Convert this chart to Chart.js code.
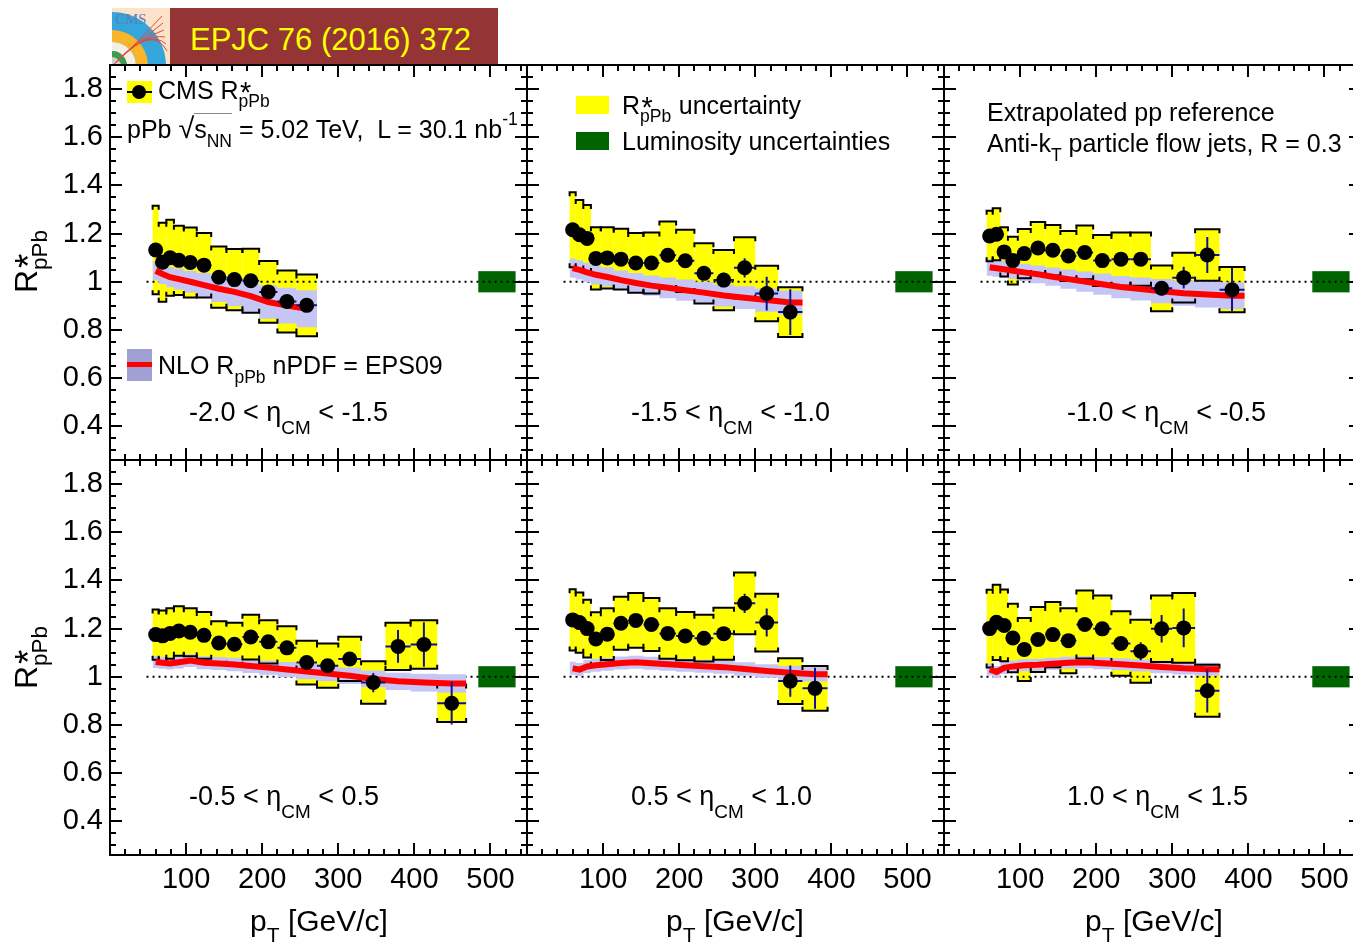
<!DOCTYPE html>
<html>
<head>
<meta charset="utf-8">
<script src="https://cdn.jsdelivr.net/npm/chart.js@4.4.0/dist/chart.umd.min.js"></script>
<style>
html, body { margin: 0; padding: 0; background: #fff; }
body { width: 1353px; height: 949px; overflow: hidden; position: relative;
       font-family: "Liberation Sans", Arial, sans-serif; color: #000; }
canvas { position: absolute; }
.t { position: absolute; white-space: nowrap; line-height: 1; z-index: 3; }
.sb { font-size: .7em; position: relative; top: .5em; }
.sbe { font-size: .7em; position: relative; top: .7em; }
.sp { font-size: .7em; position: relative; top: -.75em; }
.st { position: relative; display: inline-block; height: 0; width: 1.27em; }
.st .a { position: absolute; left: .05em; font-size: 1.15em; top: -.72em; line-height: 1; }
.st .b { position: absolute; left: 0; font-size: .7em; top: -.35em; line-height: 1; }
.ytitle { font-size: 32px; transform-origin: 0 0; transform: rotate(-90deg); }
.xtitle { font-size: 30px; transform: translateX(-50%); }
.sw { position: absolute; z-index: 3; }
.rad { border-top: 1px solid #888; padding-top: 1px; }
</style>
</head>
<body>
<canvas id="logo" width="58" height="58" style="left:112px;top:8px;"></canvas>
<div class="sw" style="left:170px;top:8px;width:328px;height:57px;background:#943434;z-index:1"></div>
<div class="t" style="left:190px;top:24px;font-size:31px;color:#ffff00;">EPJC 76 (2016) 372</div>

<div class="t ytitle" style="left:10px;top:293px;">R<span class="st"><span class="a">*</span><span class="b">pPb</span></span></div>
<div class="t ytitle" style="left:10px;top:689px;">R<span class="st"><span class="a">*</span><span class="b">pPb</span></span></div>

<!-- legend: CMS points -->
<div class="sw" style="left:127px;top:81px;width:25px;height:22px;background:#ffff00;"></div>
<div class="sw" style="left:127px;top:91px;width:25px;height:2px;background:#000;"></div>
<div class="sw" style="left:132px;top:85px;width:14px;height:14px;border-radius:50%;background:#000;"></div>
<div class="t" style="left:158px;top:78px;font-size:25px;">CMS R<span class="st"><span class="a">*</span><span class="b">pPb</span></span></div>
<div class="t" style="left:127px;top:114px;font-size:25px;">pPb <span style="font-size:1.15em">√</span><span class="rad">s<span class="sb">NN</span></span> = 5.02 TeV,&nbsp; L = 30.1 nb<span class="sp">-1</span></div>

<!-- legend: NLO -->
<div class="sw" style="left:127px;top:349px;width:25px;height:32px;background:rgb(160,160,212);"></div>
<div class="sw" style="left:127px;top:362px;width:25px;height:5px;background:#ff0000;"></div>
<div class="t" style="left:158px;top:353px;font-size:25px;">NLO R<span class="sb">pPb</span> nPDF = EPS09</div>

<!-- legend: uncertainties -->
<div class="sw" style="left:576px;top:96px;width:33px;height:18px;background:#ffff00;"></div>
<div class="t" style="left:622px;top:93px;font-size:25px;">R<span class="st"><span class="a">*</span><span class="b">pPb</span></span> uncertainty</div>
<div class="sw" style="left:576px;top:132px;width:33px;height:18px;background:#006400;"></div>
<div class="t" style="left:622px;top:129px;font-size:25px;">Luminosity uncertainties</div>

<div class="t" style="left:987px;top:100px;font-size:25px;">Extrapolated pp reference</div>
<div class="t" style="left:987px;top:131px;font-size:25px;">Anti-k<span class="sb">T</span> particle flow jets, R = 0.3</div>

<script>
// ---- binning and axis ticks ----
const ptEdges = [56, 64, 74, 84, 97, 114, 133, 153, 174, 196, 220, 245, 272, 300, 330, 362, 395, 430, 468];
const xTickValues = [100, 200, 300, 400, 500];
const xTickLabels = ['100', '200', '300', '400', '500'];
const yTickValues = [0.4, 0.6, 0.8, 1.0, 1.2, 1.4, 1.6, 1.8];
const yTickLabels = ['0.4', '0.6', '0.8', '1', '1.2', '1.4', '1.6', '1.8'];
const etaLow = ['-2.0', '-1.5', '-1.0', '-0.5', '0.5', '1.0'];
const etaHigh = ['-1.5', '-1.0', '-0.5', '0.5', '1.0', '1.5'];

// ---- luminosity uncertainty and unity reference ----
const lumiUnc = 0.044;
const lumiPt = [484, 533];
const unityPt = [48, 548];

// ---- -2.0 < eta < -1.5 ----
const rpPbA  = [1.132, 1.081, 1.100, 1.089, 1.080, 1.069, 1.019, 1.009, 1.004, 0.958, 0.918, 0.902];
const sysA   = [0.184, 0.164, 0.158, 0.144, 0.145, 0.134, 0.127, 0.127, 0.133, 0.128, 0.129, 0.128];
const statA  = [0.004, 0.004, 0.004, 0.004, 0.005, 0.005, 0.006, 0.007, 0.008, 0.010, 0.014, 0.020];
const nloA   = [1.046, 1.032, 1.019, 1.011, 1.000, 0.986, 0.971, 0.958, 0.940, 0.916, 0.901, 0.888];
const nloErrA = [0.040, 0.041, 0.042, 0.044, 0.046, 0.050, 0.055, 0.060, 0.065, 0.070, 0.074, 0.077];

// ---- -1.5 < eta < -1.0 ----
const rpPbB  = [1.216, 1.195, 1.180, 1.097, 1.099, 1.094, 1.078, 1.078, 1.110, 1.087, 1.035, 1.007, 1.058, 0.951, 0.874];
const sysB   = [0.156, 0.144, 0.139, 0.129, 0.127, 0.126, 0.124, 0.127, 0.140, 0.129, 0.125, 0.125, 0.127, 0.115, 0.103];
const statB  = [0.004, 0.004, 0.004, 0.004, 0.005, 0.005, 0.006, 0.007, 0.009, 0.012, 0.018, 0.030, 0.040, 0.070, 0.095];
const nloB   = [1.057, 1.049, 1.039, 1.029, 1.020, 1.007, 0.995, 0.984, 0.975, 0.965, 0.955, 0.943, 0.934, 0.924, 0.914];
const nloErrB = [0.040, 0.040, 0.040, 0.040, 0.040, 0.040, 0.041, 0.042, 0.043, 0.044, 0.045, 0.046, 0.047, 0.048, 0.050];

// ---- -1.0 < eta < -0.5 ----
const rpPbC  = [1.190, 1.197, 1.124, 1.088, 1.117, 1.140, 1.131, 1.107, 1.122, 1.088, 1.094, 1.094, 0.973, 1.017, 1.111, 0.967];
const sysC   = [0.105, 0.108, 0.102, 0.099, 0.102, 0.108, 0.105, 0.104, 0.112, 0.106, 0.111, 0.111, 0.095, 0.103, 0.107, 0.094];
const statC  = [0.004, 0.004, 0.004, 0.004, 0.005, 0.005, 0.006, 0.007, 0.008, 0.010, 0.013, 0.018, 0.030, 0.045, 0.075, 0.090];
const nloC   = [1.060, 1.056, 1.052, 1.046, 1.039, 1.031, 1.021, 1.011, 1.001, 0.990, 0.978, 0.970, 0.961, 0.952, 0.947, 0.942];
const nloErrC = [0.035, 0.035, 0.035, 0.035, 0.036, 0.037, 0.038, 0.040, 0.042, 0.044, 0.046, 0.048, 0.050, 0.052, 0.054, 0.056];

// ---- -0.5 < eta < 0.5 ----
const rpPbD  = [1.175, 1.170, 1.180, 1.190, 1.185, 1.172, 1.140, 1.135, 1.165, 1.145, 1.120, 1.059, 1.046, 1.074, 0.976, 1.126, 1.134, 0.890];
const sysD   = [0.104, 0.105, 0.105, 0.103, 0.100, 0.097, 0.090, 0.089, 0.093, 0.090, 0.090, 0.091, 0.092, 0.092, 0.088, 0.098, 0.101, 0.078];
const statD  = [0.003, 0.003, 0.003, 0.003, 0.004, 0.004, 0.005, 0.005, 0.006, 0.007, 0.009, 0.012, 0.016, 0.025, 0.040, 0.068, 0.092, 0.088];
const nloD   = [1.061, 1.058, 1.055, 1.060, 1.067, 1.058, 1.055, 1.051, 1.045, 1.038, 1.030, 1.022, 1.014, 1.004, 0.991, 0.981, 0.976, 0.972];
const nloErrD = [0.025, 0.025, 0.025, 0.026, 0.026, 0.027, 0.027, 0.028, 0.029, 0.030, 0.031, 0.032, 0.033, 0.034, 0.035, 0.036, 0.037, 0.038];

// ---- 0.5 < eta < 1.0 ----
const rpPbE  = [1.236, 1.225, 1.200, 1.157, 1.177, 1.222, 1.234, 1.217, 1.180, 1.169, 1.160, 1.179, 1.305, 1.225, 0.982, 0.952];
const sysE   = [0.127, 0.125, 0.120, 0.111, 0.107, 0.110, 0.114, 0.110, 0.105, 0.100, 0.097, 0.108, 0.128, 0.120, 0.095, 0.093];
const statE  = [0.004, 0.004, 0.004, 0.004, 0.005, 0.005, 0.006, 0.007, 0.008, 0.010, 0.015, 0.020, 0.040, 0.058, 0.065, 0.085];
const nloE   = [1.035, 1.030, 1.043, 1.048, 1.052, 1.057, 1.060, 1.056, 1.052, 1.048, 1.044, 1.040, 1.032, 1.024, 1.017, 1.010];
const nloErrE = [0.027, 0.027, 0.027, 0.027, 0.027, 0.027, 0.027, 0.027, 0.027, 0.027, 0.027, 0.027, 0.028, 0.028, 0.029, 0.030];

// ---- 1.0 < eta < 1.5 ----
const rpPbF  = [1.200, 1.226, 1.213, 1.161, 1.113, 1.155, 1.175, 1.150, 1.217, 1.199, 1.138, 1.106, 1.199, 1.203, 0.942];
const sysF   = [0.161, 0.156, 0.149, 0.142, 0.131, 0.135, 0.135, 0.135, 0.141, 0.138, 0.134, 0.131, 0.138, 0.145, 0.108];
const statF  = [0.004, 0.004, 0.004, 0.004, 0.005, 0.005, 0.006, 0.007, 0.009, 0.011, 0.020, 0.037, 0.057, 0.080, 0.090];
const nloF   = [1.030, 1.020, 1.037, 1.043, 1.048, 1.050, 1.054, 1.058, 1.060, 1.056, 1.052, 1.047, 1.041, 1.035, 1.031];
const nloErrF = [0.025, 0.025, 0.025, 0.025, 0.025, 0.025, 0.025, 0.025, 0.025, 0.025, 0.025, 0.025, 0.026, 0.026, 0.027];

const panels = [
  { r: rpPbA, sys: sysA, stat: statA, nlo: nloA, nloErr: nloErrA, nloToEdge: false },
  { r: rpPbB, sys: sysB, stat: statB, nlo: nloB, nloErr: nloErrB, nloToEdge: true },
  { r: rpPbC, sys: sysC, stat: statC, nlo: nloC, nloErr: nloErrC, nloToEdge: true },
  { r: rpPbD, sys: sysD, stat: statD, nlo: nloD, nloErr: nloErrD, nloToEdge: true },
  { r: rpPbE, sys: sysE, stat: statE, nlo: nloE, nloErr: nloErrE, nloToEdge: true },
  { r: rpPbF, sys: sysF, stat: statF, nlo: nloF, nloErr: nloErrF, nloToEdge: true }
];

// ---- page layout ----
const FONT = '"Liberation Sans", Arial, sans-serif';
const PLOT_W = 417, PLOT_H = 395;
const colLeft = [110, 527, 944];
const rowTop = [65, 460];
const etaLeft = [189, 631, 1067];
const etaTop = [399, 783];
const xTitleCenter = [319, 735, 1154];

const YELLOW = '#ffff00';
const LAVENDER = 'rgb(198,198,246)';
const ERRBLUE = '#101094';

function makePanelPlugin(p) {
  const n = p.r.length;
  function clipArea(ctx, a) {
    ctx.beginPath();
    ctx.rect(a.left, a.top, a.right - a.left, a.bottom - a.top);
    ctx.clip();
  }
  return {
    id: 'panelDecor',
    beforeDatasetsDraw(chart) {
      const { ctx, chartArea: a, scales: { x, y } } = chart;
      ctx.save();
      clipArea(ctx, a);
      ctx.fillStyle = YELLOW;
      for (let i = 0; i < n; i++) {
        const x0 = x.getPixelForValue(ptEdges[i]);
        const x1 = x.getPixelForValue(ptEdges[i + 1]);
        const yt = y.getPixelForValue(p.r[i] + p.sys[i]);
        const yb = y.getPixelForValue(p.r[i] - p.sys[i]);
        ctx.fillRect(x0, yt, x1 - x0, yb - yt);
      }
      ctx.fillStyle = '#006400';
      const lx0 = x.getPixelForValue(lumiPt[0]), lx1 = x.getPixelForValue(lumiPt[1]);
      const ly0 = y.getPixelForValue(1 + lumiUnc), ly1 = y.getPixelForValue(1 - lumiUnc);
      ctx.fillRect(lx0, ly0, lx1 - lx0, ly1 - ly0);
      ctx.restore();
    },
    afterDatasetDraw(chart, args) {
      const role = chart.data.datasets[args.index].role;
      const { ctx, chartArea: a, scales: { x, y } } = chart;
      if (role === 'bandHi') {
        // outlines of the systematic boxes: top and bottom edges with short serifs
        ctx.save();
        clipArea(ctx, a);
        ctx.strokeStyle = '#000';
        ctx.lineWidth = 2;
        const s = 4;
        for (let i = 0; i < n; i++) {
          const x0 = x.getPixelForValue(ptEdges[i]);
          const x1 = x.getPixelForValue(ptEdges[i + 1]);
          const yt = y.getPixelForValue(p.r[i] + p.sys[i]);
          const yb = y.getPixelForValue(p.r[i] - p.sys[i]);
          ctx.beginPath();
          ctx.moveTo(x0, yt + s); ctx.lineTo(x0, yt); ctx.lineTo(x1, yt); ctx.lineTo(x1, yt + s);
          ctx.moveTo(x0, yb - s); ctx.lineTo(x0, yb); ctx.lineTo(x1, yb); ctx.lineTo(x1, yb - s);
          ctx.stroke();
        }
        ctx.restore();
      } else if (role === 'nlo') {
        // statistical error bars
        ctx.save();
        clipArea(ctx, a);
        ctx.strokeStyle = ERRBLUE;
        ctx.lineWidth = 2;
        for (let i = 0; i < n; i++) {
          const x0 = x.getPixelForValue(ptEdges[i]);
          const x1 = x.getPixelForValue(ptEdges[i + 1]);
          const xc = x.getPixelForValue((ptEdges[i] + ptEdges[i + 1]) / 2);
          const yc = y.getPixelForValue(p.r[i]);
          ctx.beginPath();
          ctx.moveTo(x0, yc); ctx.lineTo(x1, yc);
          ctx.moveTo(xc, y.getPixelForValue(p.r[i] + p.stat[i]));
          ctx.lineTo(xc, y.getPixelForValue(p.r[i] - p.stat[i]));
          ctx.stroke();
        }
        ctx.restore();
      }
    },
    afterDraw(chart) {
      const { ctx, chartArea: a, scales: { x, y } } = chart;
      ctx.save();
      ctx.strokeStyle = '#000';
      ctx.lineWidth = 2;
      ctx.strokeRect(a.left, a.top, a.right - a.left, a.bottom - a.top);
      ctx.beginPath();
      for (let k = 1; k * 20 < 548; k++) {
        const px = Math.round(x.getPixelForValue(k * 20));
        const len = (k % 5 === 0) ? 12 : 6;
        ctx.moveTo(px, a.bottom); ctx.lineTo(px, a.bottom - len);
        ctx.moveTo(px, a.top); ctx.lineTo(px, a.top + len);
      }
      for (let k = 6; k <= 37; k++) {
        const py = Math.round(y.getPixelForValue(k * 0.05));
        const len = (k % 4 === 0) ? 12 : 6;
        ctx.moveTo(a.left, py); ctx.lineTo(a.left + len, py);
        ctx.moveTo(a.right, py); ctx.lineTo(a.right - len, py);
      }
      ctx.stroke();
      ctx.restore();
    }
  };
}

panels.forEach((p, i) => {
  const col = i % 3, row = Math.floor(i / 3);
  const padL = col === 0 ? 110 : 4;
  const padR = 4, padT = 4;
  const padB = row === 1 ? 60 : 4;
  const cv = document.createElement('canvas');
  cv.width = padL + PLOT_W + padR;
  cv.height = padT + PLOT_H + padB;
  cv.style.left = (colLeft[col] - padL) + 'px';
  cv.style.top = (rowTop[row] - padT) + 'px';
  cv.style.width = cv.width + 'px';
  cv.style.height = cv.height + 'px';
  cv.style.zIndex = 2;
  document.body.appendChild(cv);

  const n = p.r.length;
  const centers = [];
  for (let k = 0; k < n; k++) centers.push((ptEdges[k] + ptEdges[k + 1]) / 2);
  const points = centers.map((c, k) => ({ x: c, y: p.r[k] }));
  const nloLine = centers.map((c, k) => ({ x: c, y: p.nlo[k] }));
  if (p.nloToEdge) nloLine.push({ x: ptEdges[n], y: p.nlo[n - 1] });
  const bandHi = [], bandLo = [];
  for (let k = 0; k < n; k++) {
    bandHi.push({ x: ptEdges[k], y: p.nlo[k] + p.nloErr[k] }, { x: ptEdges[k + 1], y: p.nlo[k] + p.nloErr[k] });
    bandLo.push({ x: ptEdges[k], y: p.nlo[k] - p.nloErr[k] }, { x: ptEdges[k + 1], y: p.nlo[k] - p.nloErr[k] });
  }

  new Chart(cv, {
    type: 'line',
    data: {
      datasets: [
        { role: 'points', data: points, showLine: false, pointRadius: 7.5, pointHoverRadius: 7.5,
          pointBackgroundColor: '#000', pointBorderWidth: 0, order: 0 },
        { role: 'nlo', data: nloLine, borderColor: '#ff0000', borderWidth: 6, pointRadius: 0,
          tension: 0, fill: false, order: 1 },
        { role: 'bandHi', data: bandHi, borderWidth: 0, borderColor: 'rgba(0,0,0,0)', pointRadius: 0,
          backgroundColor: LAVENDER, fill: '+1', tension: 0, order: 3 },
        { role: 'bandLo', data: bandLo, borderWidth: 0, borderColor: 'rgba(0,0,0,0)', pointRadius: 0,
          fill: false, tension: 0, order: 3 },
        { role: 'unity', data: unityPt.map(v => ({ x: v, y: 1 })), borderColor: '#000', borderWidth: 2,
          borderDash: [2, 4], pointRadius: 0, fill: false, order: 5 }
      ]
    },
    options: {
      responsive: false,
      animation: false,
      devicePixelRatio: 1,
      events: [],
      layout: { padding: { left: 0, right: padR, top: padT, bottom: 0 }, autoPadding: false },
      plugins: { legend: { display: false }, tooltip: { enabled: false } },
      scales: {
        x: {
          type: 'linear', min: 0, max: 548,
          grid: { display: false, drawTicks: false }, border: { display: false },
          afterBuildTicks: s => { s.ticks = xTickValues.map(v => ({ value: v })); },
          afterFit: s => { s.height = padB; s.paddingLeft = 0; s.paddingRight = 0; s.paddingTop = 0; s.paddingBottom = 0; },
          ticks: { display: row === 1, padding: 8, color: '#000', maxRotation: 0, autoSkip: false,
                   font: { family: FONT, size: 29 }, callback: (v, idx) => xTickLabels[idx] }
        },
        y: {
          type: 'linear', min: 0.26, max: 1.9,
          grid: { display: false, drawTicks: false }, border: { display: false },
          afterBuildTicks: s => { s.ticks = yTickValues.map(v => ({ value: v })); },
          afterFit: s => { s.width = padL; s.paddingLeft = 0; s.paddingRight = 0; s.paddingTop = 0; s.paddingBottom = 0; },
          ticks: { display: col === 0, padding: 7, color: '#000', autoSkip: false,
                   font: { family: FONT, size: 29 }, callback: (v, idx) => yTickLabels[idx] }
        }
      }
    },
    plugins: [makePanelPlugin(p)]
  });

  const lab = document.createElement('div');
  lab.className = 't';
  lab.style.left = etaLeft[col] + 'px';
  lab.style.top = etaTop[row] + 'px';
  lab.style.fontSize = '27px';
  lab.innerHTML = etaLow[i] + ' &lt; η<span class="sbe">CM</span> &lt; ' + etaHigh[i];
  document.body.appendChild(lab);

  if (row === 1) {
    const xt = document.createElement('div');
    xt.className = 't xtitle';
    xt.style.left = xTitleCenter[col] + 'px';
    xt.style.top = '906px';
    xt.innerHTML = 'p<span class="sb">T</span> [GeV/c]';
    document.body.appendChild(xt);
  }
});

// experiment logo in the header
(function drawLogo() {
  const g = document.getElementById('logo').getContext('2d');
  g.fillStyle = '#fbe2c9';
  g.fillRect(0, 0, 58, 58);
  const ox = 0, oy = 58;
  function ring(r0, r1, col) {
    g.beginPath();
    g.arc(ox, oy, r1, -Math.PI / 2, 0);
    g.arc(ox, oy, r0, 0, -Math.PI / 2, true);
    g.closePath();
    g.fillStyle = col;
    g.fill();
  }
  ring(0, 54, '#35a6dc');
  ring(24, 36, '#f6b52a');
  ring(15, 24, '#f3efe6');
  ring(9, 15, '#3e9c48');
  ring(0, 9, '#cfcfcf');
  g.strokeStyle = '#e8463c';
  g.lineWidth = 1;
  for (let k = 0; k < 6; k++) {
    g.beginPath();
    g.moveTo(2, 56);
    g.quadraticCurveTo(20 + k * 4, 40 - k * 5, 50 + k, 8 + k * 7);
    g.stroke();
  }
  g.font = '15px "Liberation Serif", serif';
  g.fillStyle = '#5a7bb5';
  g.fillText('CMS', 3, 16);
})();
</script>
</body>
</html>
